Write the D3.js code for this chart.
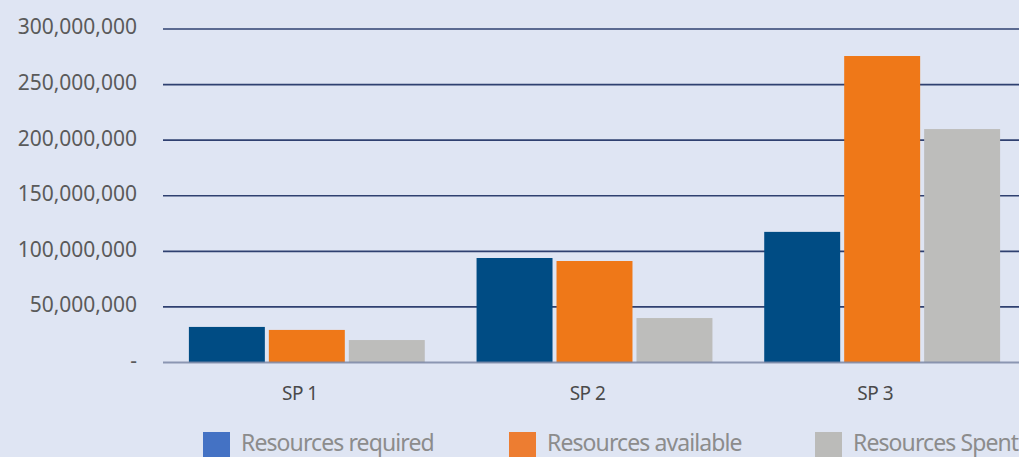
<!DOCTYPE html>
<html>
<head>
<meta charset="utf-8">
<script src="https://cdn.jsdelivr.net/npm/d3@7"></script>
<style>
  html, body { margin: 0; padding: 0; background: #dfe5f3; overflow: hidden; }
  svg { display: block; font-family: "Noto Sans", "Open Sans", sans-serif; }
  .tick-label { fill: #5a5a5a; font-size: 21px; }
  .cat-label { fill: #4a4a4a; font-size: 19px; letter-spacing: -0.5px; }
  .legend-label { fill: #8c8c8c; font-size: 23px; letter-spacing: -0.9px; }
</style>
</head>
<body>
<svg id="chart" width="1019" height="457"></svg>
<script>
const categories = ["SP 1", "SP 2", "SP 3"];
const seriesNames = ["Resources required", "Resources available", "Resources Spent"];
const required = [32000000, 94000000, 117500000];
const available = [29300000, 91300000, 275700000];
const spent = [20200000, 40000000, 210000000];
const yTicks = [0, 50000000, 100000000, 150000000, 200000000, 250000000, 300000000];

const barColors = ["#004c84", "#ef7818", "#bdbdbb"];
const legendColors = ["#4472c4", "#ed7d31", "#bbbbb9"];

const svg = d3.select("#chart"),
  width = +svg.attr("width"),
  height = +svg.attr("height");

svg.append("rect").attr("width", width).attr("height", height).attr("fill", "#dfe5f3");

const values = [required, available, spent];
const rows = categories.map((c, i) => ({
  cat: c,
  vals: seriesNames.map((s, j) => ({ series: s, idx: j, value: values[j][i] }))
}));

const x0 = d3.scaleBand()
  .domain(categories)
  .range([163, 1026])
  .paddingInner(0.18)
  .paddingOuter(0.09);

const x1 = d3.scaleBand()
  .domain(seriesNames)
  .range([0, x0.bandwidth()])
  .paddingInner(0.05);

const y = d3.scaleLinear()
  .domain([0, 300000000])
  .range([362.5, 29]);

const fmt = d => d === 0 ? "-" : d3.format(",")(d);

// grid lines (behind bars)
svg.append("g")
  .selectAll("line")
  .data(yTicks.filter(d => d > 0))
  .enter()
  .append("line")
  .attr("x1", 163)
  .attr("x2", width)
  .attr("y1", d => y(d))
  .attr("y2", d => y(d))
  .attr("stroke", "#2f4070")
  .attr("stroke-width", 1.6);

svg.append("g")
  .selectAll("text")
  .data(yTicks)
  .enter()
  .append("text")
  .attr("class", "tick-label")
  .attr("x", 137)
  .attr("y", d => y(d) - 2)
  .attr("dy", "0.35em")
  .attr("text-anchor", "end")
  .text(fmt);

// bars
const group = svg.append("g")
  .selectAll("g")
  .data(rows)
  .enter()
  .append("g")
  .attr("transform", d => `translate(${x0(d.cat)},0)`);

group.selectAll("rect")
  .data(d => d.vals)
  .enter()
  .append("rect")
  .attr("x", d => x1(d.series))
  .attr("width", x1.bandwidth())
  .attr("y", d => y(d.value))
  .attr("height", d => y(0) - y(d.value))
  .attr("fill", d => barColors[d.idx]);

// baseline
svg.append("line")
  .attr("x1", 163)
  .attr("x2", width)
  .attr("y1", y(0))
  .attr("y2", y(0))
  .attr("stroke", "#7d88a6")
  .attr("stroke-opacity", 0.85)
  .attr("stroke-width", 2);

// category labels
svg.append("g")
  .selectAll("text")
  .data(categories)
  .enter()
  .append("text")
  .attr("class", "cat-label")
  .attr("x", d => x0(d) + x0.bandwidth() / 2 - 7)
  .attr("y", 400)
  .attr("text-anchor", "middle")
  .text(d => d);

// legend
const LEGEND_X = 203, LEGEND_SPACING = 306, SWATCH = 27;
const legendItem = svg.append("g")
  .selectAll("g")
  .data(seriesNames)
  .enter()
  .append("g")
  .attr("transform", (d, i) => `translate(${LEGEND_X + i * LEGEND_SPACING},432)`);

legendItem.append("rect")
  .attr("width", SWATCH)
  .attr("height", SWATCH)
  .attr("fill", (d, i) => legendColors[i]);

legendItem.append("text")
  .attr("class", "legend-label")
  .attr("x", SWATCH + 11)
  .attr("y", 19)
  .text(d => d);
</script>
</body>
</html>
